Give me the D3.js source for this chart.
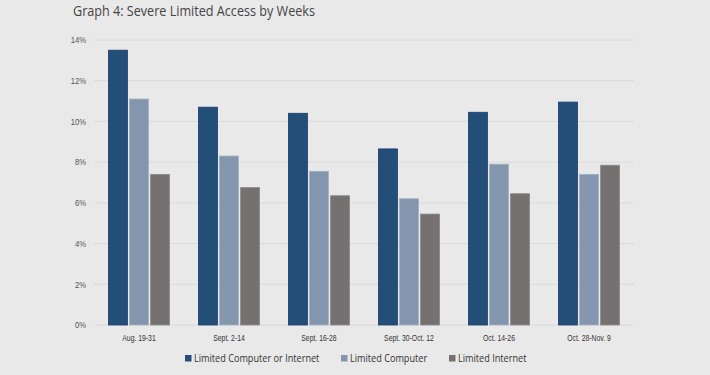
<!DOCTYPE html>
<html>
<head>
<meta charset="utf-8">
<script src="https://cdn.jsdelivr.net/npm/d3@7.9.0/dist/d3.min.js"></script>
<style>
  html, body { margin: 0; padding: 0; background: #e9e9e9; }
  svg { display: block; font-family: "Open Sans", sans-serif; }
</style>
</head>
<body>
<div id="chart"></div>
<script>
// chart data
const weeks = ['Aug. 19-31', 'Sept. 2-14', 'Sept. 16-28', 'Sept. 30-Oct. 12', 'Oct. 14-26', 'Oct. 28-Nov. 9'];
const seriesNames = ['Limited Computer or Internet', 'Limited Computer', 'Limited Internet'];
const computerOrInternet = [13.5, 10.7, 10.4, 8.65, 10.45, 10.95];
const computerOnly = [11.1, 8.3, 7.55, 6.2, 7.9, 7.4];
const internetOnly = [7.4, 6.75, 6.35, 5.45, 6.45, 7.85];
const yTicks = [0, 2, 4, 6, 8, 10, 12, 14];

const seriesValues = [computerOrInternet, computerOnly, internetOnly];
const colors = ['#234e77', '#8496ae', '#757170'];
const strokes = ['#1b3c6e', '#a3b1c4', '#8d8a89'];

const width = 710, height = 375;
const margin = { top: 40, right: 76, bottom: 50, left: 94 };
const innerWidth = width - margin.left - margin.right;
const innerHeight = height - margin.top - margin.bottom;

// the original uses a narrow font, so squeeze the glyphs a bit
function condense(sel, k) {
    sel.each(function () {
        const w = this.getComputedTextLength();
        this.setAttribute('textLength', w * k);
        this.setAttribute('lengthAdjust', 'spacingAndGlyphs');
    });
}

const svg = d3.select('#chart').append('svg')
    .attr('width', width)
    .attr('height', height);

// title
svg.append('text')
    .attr('x', 73)
    .attr('y', 16)
    .style('font-size', '14px')
    .style('fill', '#444')
    .text('Graph 4: Severe Limited Access by Weeks')
    .attr('textLength', 242)
    .attr('lengthAdjust', 'spacingAndGlyphs');

const g = svg.append('g')
    .attr('transform', `translate(${margin.left},${margin.top})`);

const x = d3.scaleBand()
    .domain(weeks)
    .range([0, innerWidth])
    .paddingInner(0.32)
    .paddingOuter(0.16);

const xInner = d3.scaleBand()
    .domain(d3.range(seriesNames.length))
    .range([0, x.bandwidth()])
    .paddingInner(0.1);

const y = d3.scaleLinear()
    .domain([0, 14])
    .range([innerHeight, 0]);

// gridlines
g.append('g')
    .selectAll('line')
    .data(yTicks)
    .enter()
    .append('line')
    .attr('x1', 0)
    .attr('x2', innerWidth)
    .attr('y1', d => y(d))
    .attr('y2', d => y(d))
    .attr('stroke', '#dadada')
    .attr('stroke-width', 1);

// y axis labels
const yAxis = d3.axisLeft(y)
    .tickValues(yTicks)
    .tickFormat(d => d + '%')
    .tickSize(0)
    .tickPadding(8);

g.append('g')
    .call(yAxis)
    .call(s => s.select('.domain').remove())
    .selectAll('text')
    .style('font-size', '8.5px')
    .style('fill', '#555')
    .call(condense, 0.9);

// bars
const groups = g.selectAll('.week')
    .data(weeks)
    .enter()
    .append('g')
    .attr('class', 'week')
    .attr('transform', d => `translate(${x(d)},0)`);

groups.selectAll('rect')
    .data((d, i) => seriesValues.map((vals, s) => ({ s, v: vals[i] })))
    .enter()
    .append('rect')
    .attr('x', d => xInner(d.s))
    .attr('y', d => y(d.v))
    .attr('width', xInner.bandwidth())
    .attr('height', d => innerHeight - y(d.v))
    .attr('fill', d => colors[d.s])
    .attr('stroke', d => strokes[d.s])
    .attr('stroke-width', 0.8);

// x axis labels
const xAxis = d3.axisBottom(x).tickSize(0).tickPadding(10);
g.append('g')
    .attr('transform', `translate(0,${innerHeight})`)
    .call(xAxis)
    .call(s => s.select('.domain').remove())
    .selectAll('text')
    .style('font-size', '9px')
    .style('fill', '#333')
    .call(condense, 0.76);

// legend
const legendX = [185, 341, 449];
const legend = svg.append('g')
    .selectAll('g')
    .data(seriesNames)
    .enter()
    .append('g')
    .attr('transform', (d, i) => `translate(${legendX[i]},355)`);

legend.append('rect')
    .attr('width', 6.5)
    .attr('height', 6.5)
    .attr('fill', (d, i) => colors[i]);

legend.append('text')
    .attr('x', 9)
    .attr('y', 7)
    .style('font-size', '11px')
    .style('fill', '#333')
    .text(d => d)
    .call(condense, 0.83);
</script>
</body>
</html>
